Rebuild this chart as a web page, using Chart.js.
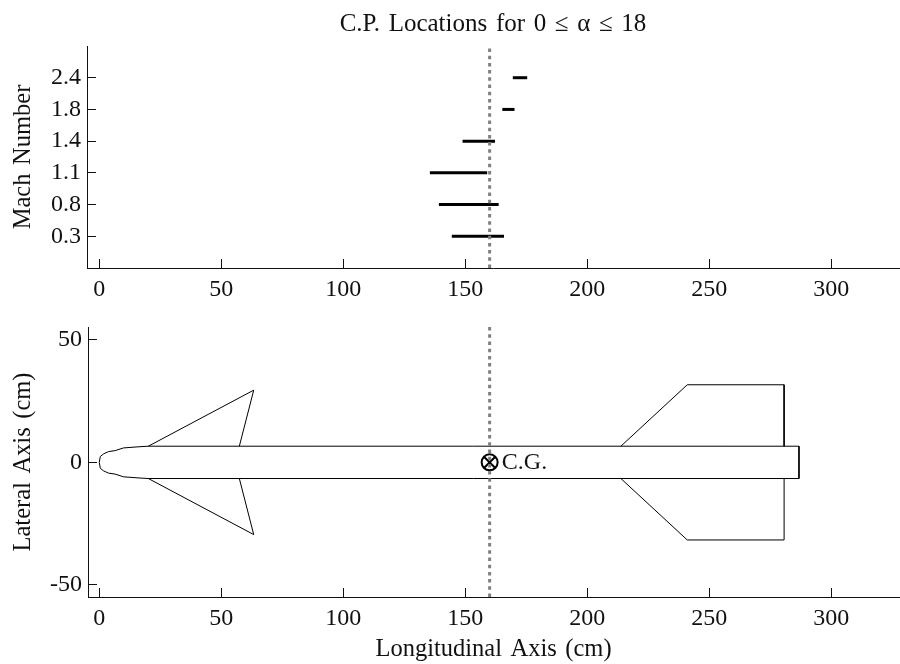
<!DOCTYPE html>
<html>
<head>
<meta charset="utf-8">
<style>
  html, body { margin: 0; padding: 0; background: #fff; }
  canvas { position: absolute; left: 0; }
  #cpChart { top: 0; }
  #missileChart { top: 300px; }
</style>
<script src="https://cdn.jsdelivr.net/npm/chart.js@4/dist/chart.umd.min.js"></script>
</head>
<body>
<canvas id="cpChart" width="900" height="300"></canvas>
<canvas id="missileChart" width="900" height="364"></canvas>
<script>
// C.P. travel per Mach number (cm)
const machLabels = ["0.3", "0.8", "1.1", "1.4", "1.8", "2.4"];
const cpMin = [144.5, 139.2, 135.5, 148.9, 165.2, 169.5];
const cpMax = [165.9, 163.7, 159.0, 162.2, 170.2, 175.4];
const cgX = 160;

// missile outline (cm)
const bodyX = [0, 0.4, 1.8, 3.8, 6.5, 9.9, 16.7, 20.1, 286.8, 286.8, 20.1, 16.7, 9.9, 6.5, 3.8, 1.8, 0.4, 0];
const bodyY = [0, 2.4, 3.5, 4.4, 4.8, 5.9, 6.4, 6.6, 6.6, -6.6, -6.6, -6.4, -5.9, -4.8, -4.4, -3.5, -2.4, 0];
const frontFinX = [20.1, 63.3, 57.4];
const frontFinUpperY = [6.6, 29.5, 6.6];
const frontFinLowerY = [-6.6, -29.5, -6.6];
const tailFinX = [213.8, 241, 280.7, 280.7];
const tailFinUpperY = [6.6, 31.7, 31.7, 6.6];
const tailFinLowerY = [-6.6, -31.7, -31.7, -6.6];

const serif = "'Liberation Serif', 'Times New Roman', serif";
const ink = "#111";

function toPoints(xs, ys) {
  return xs.map((x, i) => ({ x: x, y: ys[i] }));
}

function outline(xs, ys) {
  return { data: toPoints(xs, ys), showLine: true, borderColor: "#000", borderWidth: 1, pointRadius: 0, tension: 0 };
}

function cgLine(lo, hi) {
  return {
    data: [{ x: cgX, y: lo }, { x: cgX, y: hi }],
    showLine: true,
    borderColor: "#808080",
    borderWidth: 3,
    borderDash: [3.5, 3.7],
    pointRadius: 0
  };
}

function xAxis(min, height, titleText) {
  return {
    type: "linear",
    min: min,
    max: 327.8,
    border: { color: ink, width: 1 },
    grid: { drawOnChartArea: false, tickLength: -9, tickColor: ink },
    ticks: { stepSize: 50, includeBounds: false, maxRotation: 0, padding: 16, color: ink, font: { family: serif, size: 24 } },
    title: titleText
      ? { display: true, text: titleText, color: ink, font: { family: serif, size: 24.5 }, padding: { top: 0, bottom: 0 } }
      : { display: false },
    afterFit(scale) { scale.height = height; }
  };
}

function yAxis(width, opts, titleText) {
  return Object.assign({
    type: "linear",
    border: { color: ink, width: 1 },
    grid: { drawOnChartArea: false, tickLength: -9, tickColor: ink },
    title: { display: true, text: titleText, color: ink, font: { family: serif, size: 24.5 }, padding: { top: 9, bottom: 0 } },
    afterFit(scale) {
      scale.width = width;
      scale.paddingTop = 0;
      scale.paddingBottom = 0;
    }
  }, opts);
}

const basePlugins = { legend: { display: false }, tooltip: { enabled: false } };

// the title's spaces run wider than the font's own
const wideSpaces = {
  id: "wideSpaces",
  beforeDraw(chart) { chart.ctx.wordSpacing = "2.4px"; }
};

const cgLabel = {
  id: "cgLabel",
  afterDatasetsDraw(chart) {
    const ctx = chart.ctx;
    ctx.save();
    ctx.font = "24px " + serif;
    ctx.fillStyle = ink;
    ctx.textBaseline = "middle";
    ctx.fillText("C.G.", chart.scales.x.getPixelForValue(165), chart.scales.y.getPixelForValue(0));
    ctx.restore();
  }
};

new Chart(document.getElementById("cpChart"), {
  type: "scatter",
  data: {
    datasets: [cgLine(0, 7)].concat(machLabels.map((m, i) => ({
      label: m,
      data: [{ x: cpMin[i], y: i + 1 }, { x: cpMax[i], y: i + 1 }],
      showLine: true,
      borderColor: "#000",
      borderWidth: 3,
      pointRadius: 0
    })))
  },
  options: {
    responsive: false,
    animation: false,
    layout: { padding: { right: 1 } },
    plugins: Object.assign({}, basePlugins, {
      title: {
        display: true,
        text: "C.P. Locations for 0 ≤ α ≤ 18",
        color: ink,
        fullSize: false,
        font: { family: serif, size: 25, weight: "normal" },
        padding: { top: 9, bottom: 7 }
      }
    }),
    scales: {
      x: xAxis(-5.04, 32),
      y: yAxis(87, {
        min: 0,
        max: 7,
        afterBuildTicks(scale) {
          scale.ticks = machLabels.map((m, i) => ({ value: i + 1 }));
        },
        ticks: {
          padding: 15,
          color: ink,
          font: { family: serif, size: 24 },
          callback(v) { return machLabels[v - 1]; }
        }
      }, "Mach Number")
    }
  },
  plugins: [wideSpaces]
});

new Chart(document.getElementById("missileChart"), {
  type: "scatter",
  data: {
    datasets: [
      cgLine(-55, 55.3),
      outline(bodyX, bodyY),
      outline(frontFinX, frontFinUpperY),
      outline(frontFinX, frontFinLowerY),
      outline(tailFinX, tailFinUpperY),
      outline(tailFinX, tailFinLowerY),
      // showLine plus zero radius at both ends keeps the marker out of the layout's overflow padding
      {
        data: [{ x: cgX, y: 0 }, { x: cgX, y: 0 }, { x: cgX, y: 0 }],
        showLine: true,
        pointStyle: "circle",
        pointRadius: [0, 8, 0],
        pointBorderWidth: 2,
        pointBorderColor: "#000",
        pointBackgroundColor: "transparent",
        borderWidth: 0
      },
      {
        data: [{ x: cgX, y: 0 }, { x: cgX, y: 0 }, { x: cgX, y: 0 }],
        showLine: true,
        pointStyle: "crossRot",
        pointRadius: [0, 8, 0],
        pointBorderWidth: 2,
        pointBorderColor: "#000",
        borderWidth: 0
      }
    ]
  },
  options: {
    responsive: false,
    animation: false,
    layout: { padding: { top: 27, right: 1 } },
    plugins: basePlugins,
    scales: {
      x: xAxis(-4.63, 67, "Longitudinal Axis (cm)"),
      y: yAxis(88, {
        min: -55,
        max: 55.3,
        ticks: { stepSize: 50, includeBounds: false, padding: 15, color: ink, font: { family: serif, size: 24 } }
      }, "Lateral Axis (cm)")
    }
  },
  plugins: [wideSpaces, cgLabel]
});
</script>
</body>
</html>
